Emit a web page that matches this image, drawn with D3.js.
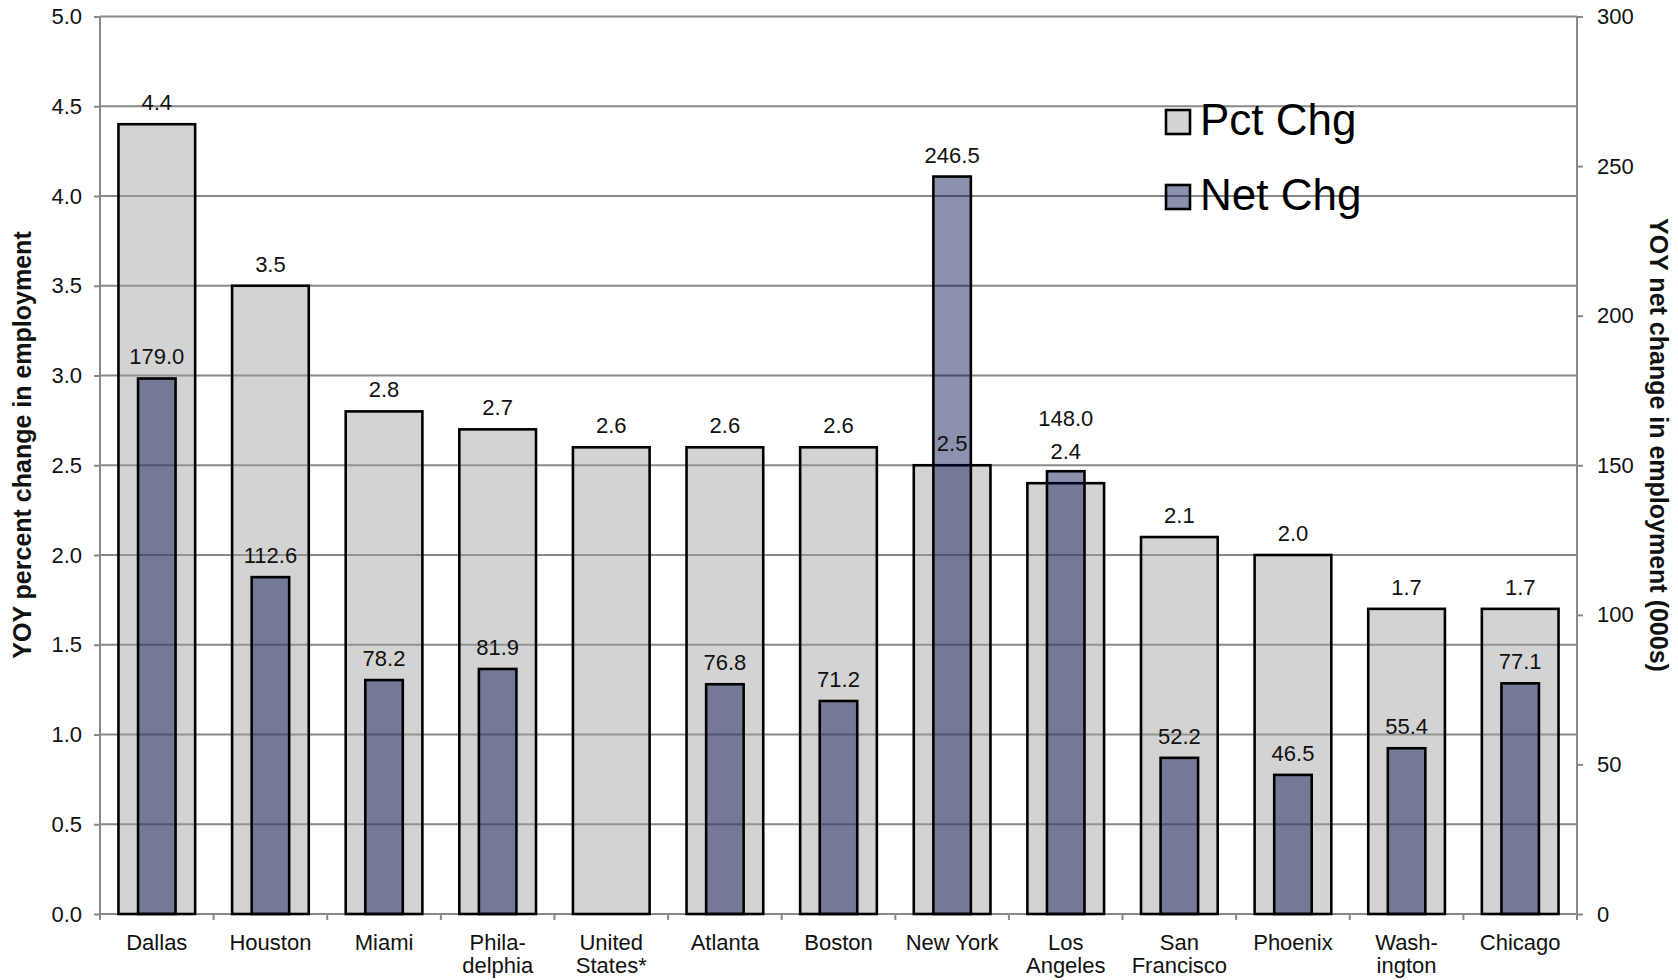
<!DOCTYPE html>
<html>
<head>
<meta charset="utf-8">
<script src="https://cdn.jsdelivr.net/npm/d3@7"></script>
<style>
  html, body { margin: 0; padding: 0; background: #fff; }
  svg { display: block; font-family: "Liberation Sans", Arial, sans-serif; }
</style>
</head>
<body>
<svg id="chart" width="1678" height="980"></svg>
<script>
// Metro areas, year-over-year employment change
const categories = ["Dallas", "Houston", "Miami", "Phila-\ndelphia", "United\nStates*", "Atlanta",
  "Boston", "New York", "Los\nAngeles", "San\nFrancisco", "Phoenix", "Wash-\nington", "Chicago"];
const pctChg = [4.4, 3.5, 2.8, 2.7, 2.6, 2.6, 2.6, 2.5, 2.4, 2.1, 2.0, 1.7, 1.7];
const netChg = [179.0, 112.6, 78.2, 81.9, null, 76.8, 71.2, 246.5, 148.0, 52.2, 46.5, 55.4, 77.1];
const leftTicks = [0, 0.5, 1, 1.5, 2, 2.5, 3, 3.5, 4, 4.5, 5];
const rightTicks = [0, 50, 100, 150, 200, 250, 300];
const seriesNames = ["Pct Chg", "Net Chg"];

const svg = d3.select("#chart");
const plot = { left: 100, right: 1577, top: 16.5, bottom: 914 };

const x = d3.scaleBand().domain(d3.range(categories.length)).range([plot.left, plot.right]);
const yPct = d3.scaleLinear().domain([0, 5]).range([plot.bottom, plot.top]);
const yNet = d3.scaleLinear().domain([0, 300]).range([plot.bottom, plot.top]);

const axisColor = "#898989";
const grayFill = "#a0a0a0", grayOpacity = 0.46;
const blueFill = "rgb(0,10,75)", blueOpacity = 0.45;
const labelFont = 22;
const labelGap = 14;
// Labels lifted clear of each other where the two series would collide
const pctLabelLift = { 8: 10 };
const netLabelLift = { 8: 31 };

// Horizontal gridlines
svg.append("g").selectAll("line").data(leftTicks).join("line")
  .attr("x1", plot.left).attr("x2", plot.right)
  .attr("y1", d => yPct(d)).attr("y2", d => yPct(d))
  .attr("stroke", axisColor).attr("stroke-width", 2);

// Left axis
const leftAxis = svg.append("g").attr("transform", `translate(${plot.left},0)`)
  .call(d3.axisLeft(yPct).tickValues(leftTicks).tickFormat(d3.format(".1f")).tickSize(6).tickPadding(12));
// Right axis
const rightAxis = svg.append("g").attr("transform", `translate(${plot.right},0)`)
  .call(d3.axisRight(yNet).tickValues(rightTicks).tickFormat(d3.format("d")).tickSize(6).tickPadding(14));
// Bottom axis with ticks between categories
const bottomAxis = svg.append("g").attr("transform", `translate(0,${plot.bottom})`);
bottomAxis.append("line").attr("x1", plot.left).attr("x2", plot.right)
  .attr("stroke", axisColor).attr("stroke-width", 2);
bottomAxis.selectAll("line.tick").data(d3.range(categories.length + 1)).join("line")
  .attr("class", "tick")
  .attr("x1", i => i < categories.length ? x(i) : plot.right)
  .attr("x2", i => i < categories.length ? x(i) : plot.right)
  .attr("y1", 0).attr("y2", 6)
  .attr("stroke", axisColor).attr("stroke-width", 2);

[leftAxis, rightAxis].forEach(g => {
  g.select(".domain").attr("stroke", axisColor).attr("stroke-width", 2);
  g.selectAll(".tick line").attr("stroke", axisColor).attr("stroke-width", 2);
  g.selectAll(".tick text").attr("font-size", labelFont).attr("fill", "#111")
    .attr("font-family", "Liberation Sans, Arial, sans-serif");
});
leftAxis.select(".domain").attr("d", `M0,${plot.bottom}V${plot.top}`);
rightAxis.select(".domain").attr("d", `M0,${plot.bottom}V${plot.top}`);

// Category labels (may span two lines)
const catLabels = svg.append("g").selectAll("text").data(categories).join("text")
  .attr("x", (d, i) => x(i) + x.bandwidth() / 2)
  .attr("y", 950)
  .attr("text-anchor", "middle")
  .attr("font-size", labelFont).attr("fill", "#111");
catLabels.each(function(d) {
  const lines = d.split("\n");
  d3.select(this).selectAll("tspan").data(lines).join("tspan")
    .attr("x", d3.select(this).attr("x"))
    .attr("dy", (l, j) => j === 0 ? 0 : 23)
    .text(l => l);
});

// Percent-change bars
const grayW = x.bandwidth() * 0.675;
svg.append("g").selectAll("rect").data(pctChg).join("rect")
  .attr("x", (d, i) => x(i) + (x.bandwidth() - grayW) / 2)
  .attr("width", grayW)
  .attr("y", d => yPct(d))
  .attr("height", d => yPct(0) - yPct(d))
  .attr("fill", grayFill).attr("fill-opacity", grayOpacity)
  .attr("stroke", "#000").attr("stroke-width", 2.6);

// Net-change bars
const blueW = x.bandwidth() * 0.33;
const netData = netChg.map((v, i) => ({ v, i })).filter(d => d.v !== null);
svg.append("g").selectAll("rect").data(netData).join("rect")
  .attr("x", d => x(d.i) + (x.bandwidth() - blueW) / 2)
  .attr("width", blueW)
  .attr("y", d => yNet(d.v))
  .attr("height", d => yNet(0) - yNet(d.v))
  .attr("fill", blueFill).attr("fill-opacity", blueOpacity)
  .attr("stroke", "#000").attr("stroke-width", 2.6);

// Value labels
svg.append("g").selectAll("text").data(pctChg).join("text")
  .attr("x", (d, i) => x(i) + x.bandwidth() / 2)
  .attr("y", (d, i) => yPct(d) - labelGap - (pctLabelLift[i] || 0))
  .attr("text-anchor", "middle").attr("font-size", labelFont).attr("fill", "#111")
  .text(d => d3.format(".1f")(d));
svg.append("g").selectAll("text").data(netData).join("text")
  .attr("x", d => x(d.i) + x.bandwidth() / 2)
  .attr("y", d => yNet(d.v) - labelGap - (netLabelLift[d.i] || 0))
  .attr("text-anchor", "middle").attr("font-size", labelFont).attr("fill", "#111")
  .text(d => d3.format(".1f")(d.v));

// Axis titles
svg.append("text")
  .attr("transform", "translate(31,445) rotate(-90)")
  .attr("text-anchor", "middle").attr("font-size", 25).attr("font-weight", "bold").attr("fill", "#111")
  .text("YOY percent change in employment");
svg.append("text")
  .attr("transform", "translate(1650,445) rotate(90)")
  .attr("text-anchor", "middle").attr("font-size", 25).attr("font-weight", "bold").attr("fill", "#111")
  .text("YOY net change in employment (000s)");

// Legend
const legend = svg.append("g").attr("transform", "translate(1166,110)");
const legendItems = legend.selectAll("g").data(seriesNames).join("g")
  .attr("transform", (d, i) => `translate(0,${i * 75})`);
legendItems.append("rect")
  .attr("width", 24).attr("height", 24)
  .attr("fill", (d, i) => i === 0 ? grayFill : blueFill)
  .attr("fill-opacity", (d, i) => i === 0 ? grayOpacity : blueOpacity)
  .attr("stroke", "#000").attr("stroke-width", 2.6);
legendItems.append("text")
  .attr("x", 34).attr("y", 25)
  .attr("font-size", 44).attr("fill", "#000")
  .text(d => d);
</script>
</body>
</html>
